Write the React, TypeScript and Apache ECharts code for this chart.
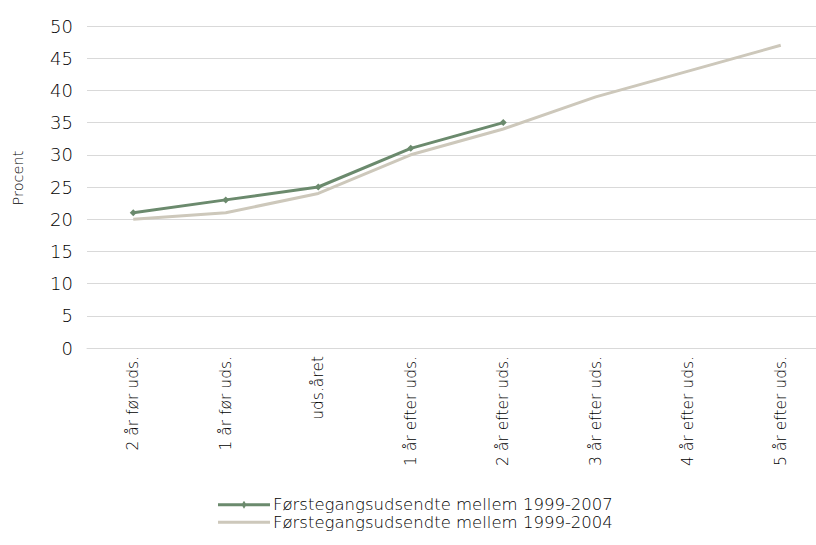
import React, { useEffect, useRef } from "react";
import * as echarts from "echarts";

const categories = [
  "2 år før uds.",
  "1 år før uds.",
  "uds.året",
  "1 år efter uds.",
  "2 år efter uds.",
  "3 år efter uds.",
  "4 år efter uds.",
  "5 år efter uds.",
];
const series2007 = [21, 23, 25, 31, 35, null, null, null];
const series2004 = [20, 21, 24, 30, 34, 39, 43, 47];
const seriesNames = [
  "Førstegangsudsendte mellem 1999-2007",
  "Førstegangsudsendte mellem 1999-2004",
];

export default function App() {
  const ref = useRef<HTMLDivElement>(null);
  useEffect(() => {
    const chart = echarts.init(ref.current!, null, { renderer: "svg" });
    const font = "'DejaVu Sans', sans-serif";
    const txt = { color: "#000", fontFamily: font, fontWeight: 200 };
    chart.setOption({
      animation: false,
      textStyle: { fontFamily: font },
      grid: { left: 87, top: 26, width: 740, height: 322, containLabel: false },
      legend: {
        orient: "vertical",
        left: 213,
        top: 491,
        itemWidth: 52,
        itemHeight: 12,
        itemGap: 0,
        textStyle: { ...txt, fontSize: 16.5, lineHeight: 17.5, padding: [0, 0, 0, -2] },
        data: [
          {
            name: seriesNames[0],
            icon: "path://M0,4 h52 v3 h-52 z M26,1.5 l2.5,4 l-2.5,4 l-2.5,-4 z",
            itemStyle: { color: "#6b8a6d" },
          },
          {
            name: seriesNames[1],
            icon: "path://M0,4 h52 v3 h-52 z M0,0 h0.01 v0.01 z M0,11 h0.01 v0.01 z",
            itemStyle: { color: "#cdc8bb" },
          },
        ],
      },
      xAxis: {
        type: "category",
        data: categories,
        boundaryGap: true,
        axisLine: { show: true, lineStyle: { color: "#d9d9d9", width: 1 } },
        axisTick: { show: false },
        axisLabel: { ...txt, rotate: 90, fontSize: 15.5, margin: 8 },
      },
      yAxis: {
        type: "value",
        min: 0,
        max: 50,
        interval: 5,
        name: "Procent",
        nameLocation: "middle",
        nameGap: 62,
        nameTextStyle: { ...txt, fontSize: 14.5, padding: [0, 0, 0, 18] },
        axisLine: { show: false },
        axisTick: { show: false },
        axisLabel: { ...txt, fontSize: 18, margin: 14 },
        splitLine: { lineStyle: { color: "#d9d9d9", width: 1 } },
      },
      series: [
        {
          name: seriesNames[1],
          type: "line",
          data: series2004,
          symbol: "none",
          lineStyle: { color: "#cdc8bb", width: 3 },
          itemStyle: { color: "#cdc8bb" },
          z: 2,
        },
        {
          name: seriesNames[0],
          type: "line",
          data: series2007,
          symbol: "diamond",
          symbolSize: 7,
          lineStyle: { color: "#6b8a6d", width: 3 },
          itemStyle: { color: "#6b8a6d" },
          z: 3,
        },
      ],
    });
    return () => chart.dispose();
  }, []);
  return (
    <div style={{ position: "absolute", left: 0, top: 0, width: 816, height: 545, overflow: "hidden" }}>
      <div ref={ref} style={{ width: 830, height: 545 }} />
    </div>
  );
}
